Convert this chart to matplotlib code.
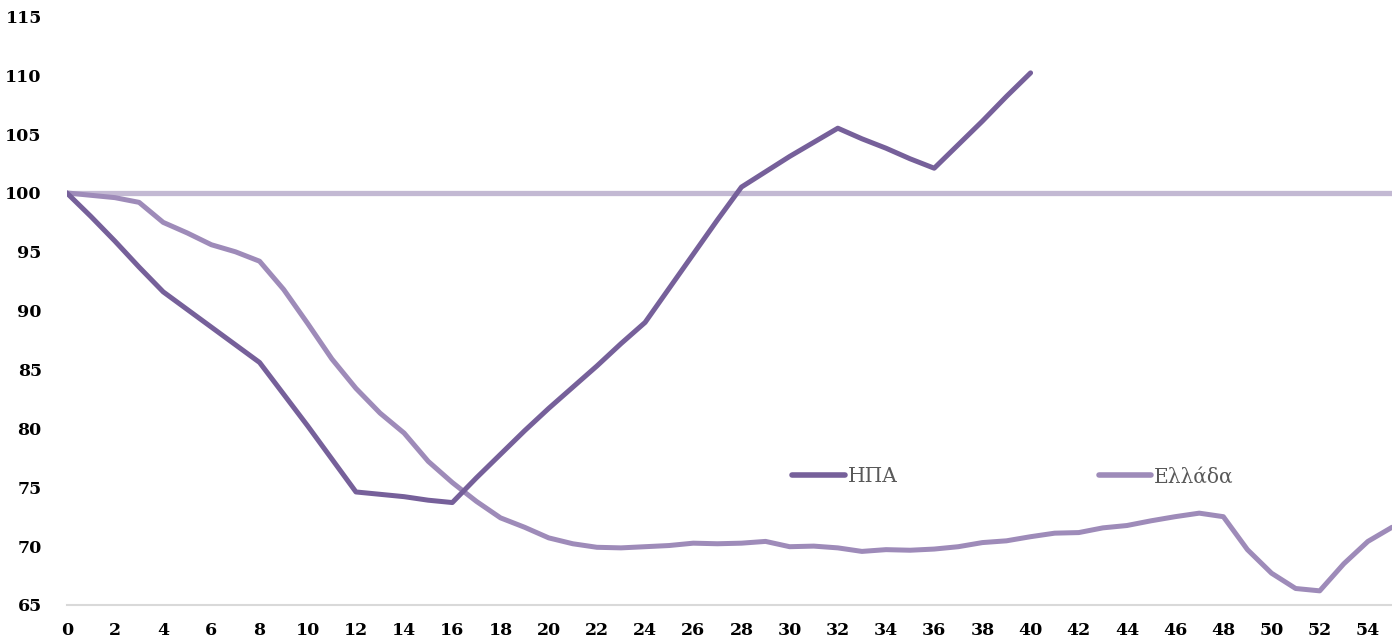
import matplotlib
matplotlib.use("Agg")
import matplotlib.pyplot as plt

# Index (start = 100) per period
usa_x = list(range(0, 41))
usa_values = [100.0, 98.0, 95.9, 93.7, 91.6, 90.1, 88.6, 87.1, 85.6, 82.9,
              80.2, 77.4, 74.6, 74.4, 74.2, 73.9, 73.7, 75.8, 77.8, 79.8,
              81.7, 83.5, 85.3, 87.2, 89.0, 91.9, 94.8, 97.7, 100.5, 101.8,
              103.1, 104.3, 105.5, 104.6, 103.8, 102.9, 102.1, 104.1, 106.1, 108.2,
              110.2]

greece_x = list(range(0, 56))
greece_values = [100.0, 99.8, 99.6, 99.2, 97.5, 96.6, 95.6, 95.0, 94.2, 91.8,
                 88.9, 85.9, 83.4, 81.3, 79.6, 77.2, 75.4, 73.8, 72.4, 71.6,
                 70.7, 70.2, 69.9, 69.85, 69.95, 70.05, 70.25, 70.2, 70.25, 70.4,
                 69.95, 70.0, 69.85, 69.55, 69.7, 69.65, 69.75, 69.95, 70.3, 70.45,
                 70.8, 71.1, 71.15, 71.55, 71.75, 72.15, 72.5, 72.8, 72.5, 69.7,
                 67.7, 66.4, 66.2, 68.5, 70.4, 71.6]

baseline = 100
series_labels = ["ΗΠΑ", "Ελλάδα"]
y_ticks = list(range(65, 116, 5))
x_ticks = list(range(0, 55, 2))

col_usa = "#76609a"
col_gr = "#9e8bb9"
col_base = "#c3b9d3"

plt.rcParams["font.family"] = ["DejaVu Serif"]

fig = plt.figure(figsize=(13.92, 6.44), dpi=100)
ax = fig.add_axes([0.048, 0.0606, 0.952, 0.914])

ax.axhline(baseline, color=col_base, linewidth=3.8, zorder=1)
ax.plot(usa_x, usa_values, color=col_usa, linewidth=3.6,
        solid_capstyle="round", label=series_labels[0], zorder=3)
ax.plot(greece_x, greece_values, color=col_gr, linewidth=3.6,
        solid_capstyle="round", label=series_labels[1], zorder=2)

ax.set_xlim(0, 55)
ax.set_ylim(65, 115)
tick_kw = dict(fontfamily="DejaVu Serif", fontweight="bold", fontsize=12.5)
ax.set_yticks(y_ticks, labels=[str(v) for v in y_ticks], **tick_kw)
ax.set_xticks(x_ticks, labels=[str(v) for v in x_ticks], **tick_kw)

for side in ("top", "right", "left"):
    ax.spines[side].set_visible(False)
ax.spines["bottom"].set_color("#d9d9d9")
ax.spines["bottom"].set_linewidth(1.5)
ax.spines["bottom"].set_zorder(0)

ax.tick_params(axis="both", length=0, colors="black")
ax.tick_params(axis="y", pad=18)
ax.tick_params(axis="x", pad=12)

leg = ax.legend(loc="center", bbox_to_anchor=(0.714, 0.218), ncol=2,
                frameon=False, handlelength=2.6, handletextpad=0.15,
                columnspacing=10.0,
                prop=dict(family="DejaVu Serif", size=14.5))
for txt in leg.get_texts():
    txt.set_color("#595959")
for line in leg.get_lines():
    line.set_linewidth(4.0)

fig.savefig("out.png", dpi=100)
